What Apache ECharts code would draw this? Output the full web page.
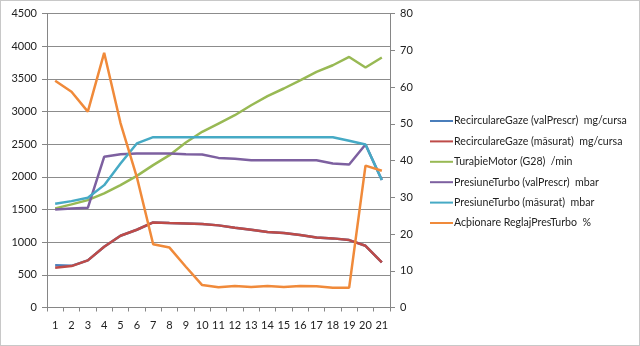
<!DOCTYPE html>
<html>
<head>
<meta charset="utf-8">
<script src="https://cdn.jsdelivr.net/npm/echarts@6/dist/echarts.min.js"></script>
<style>
html,body{margin:0;padding:0;background:#fff;}
#c{position:absolute;left:0;top:0;width:638px;height:344px;border:1px solid #c8c8c8;}
</style>
</head>
<body>
<div id="c"></div>
<script>
const categories = ['1','2','3','4','5','6','7','8','9','10','11','12','13','14','15','16','17','18','19','20','21'];
const names = [
  'RecirculareGaze (valPrescr)  mg/cursa',
  'RecirculareGaze (măsurat)  mg/cursa',
  'TuraþieMotor (G28)  /min',
  'PresiuneTurbo (valPrescr)  mbar',
  'PresiuneTurbo (măsurat)  mbar',
  'Acþionare ReglajPresTurbo  %'
];
const recircPrescr = [645,638,721,930,1098,1190,1302,1292,1287,1277,1257,1220,1190,1154,1139,1109,1073,1058,1032,945,691];
const recircMasurat = [609,634,721,930,1098,1190,1302,1292,1287,1277,1257,1220,1190,1154,1139,1109,1073,1058,1032,945,691];
const turatie = [1517,1578,1644,1746,1873,2015,2179,2332,2526,2689,2816,2943,3096,3234,3352,3478,3606,3708,3835,3673,3826];
const presPrescr = [1501,1517,1526,2306,2347,2358,2358,2358,2347,2342,2290,2275,2255,2255,2255,2255,2255,2205,2190,2495,1950];
const presMasurat = [1587,1628,1679,1873,2205,2511,2607,2607,2607,2607,2607,2607,2607,2607,2607,2607,2607,2607,2551,2495,1950];
const actionare = [61.7,58.7,53.3,69.3,50.2,35.5,17.2,16.3,11.1,6.1,5.5,5.85,5.6,5.85,5.6,5.85,5.8,5.4,5.4,38.6,37.2];
const leftTicks = {min:0,max:4500,interval:500};
const rightTicks = {min:0,max:80,interval:10};

const colors = ['#4A7EBB','#BE4B48','#98B954','#7D60A0','#46AAC5','#F08A3A'];
const datas = [recircPrescr, recircMasurat, turatie, presPrescr, presMasurat, actionare];
const axisIdx = [0,0,0,0,0,1];

const chart = echarts.init(document.getElementById('c'), null, {renderer:'canvas'});
const font = 'Lato, "Open Sans", sans-serif';
chart.setOption({
  animation:false,
  color:colors,
  grid:{left:46,right:249,top:12.5,bottom:37.5,containLabel:false},
  legend:{
    orient:'vertical', left:424, top:108,
    icon:'rect', itemWidth:23, itemHeight:2, itemGap:6.4,
    textStyle:{fontFamily:font,fontSize:10.6,color:'#222',lineHeight:14,padding:[0,0,0,-4]},
    data:names
  },
  xAxis:{
    type:'category', data:categories, boundaryGap:true,
    axisLine:{lineStyle:{color:'#868686',width:1}},
    axisTick:{show:true,length:4,lineStyle:{color:'#868686'}},
    axisLabel:{fontFamily:font,fontSize:11,color:'#222',margin:12,interval:0},
    splitLine:{show:false}
  },
  yAxis:[
    {type:'value',min:leftTicks.min,max:leftTicks.max,interval:leftTicks.interval,
     axisLine:{show:true,lineStyle:{color:'#868686'}},
     axisTick:{show:true,length:5,lineStyle:{color:'#868686'}},
     axisLabel:{fontFamily:font,fontSize:11,color:'#222',margin:10,formatter:v=>String(v)},
     splitLine:{show:true,lineStyle:{color:'#8c8c8c',width:1}}},
    {type:'value',min:rightTicks.min,max:rightTicks.max,interval:rightTicks.interval,position:'right',
     axisLine:{show:true,lineStyle:{color:'#868686'}},
     axisTick:{show:true,length:5,lineStyle:{color:'#868686'}},
     axisLabel:{fontFamily:font,fontSize:11,color:'#222',margin:10,formatter:v=>String(v)},
     splitLine:{show:false}}
  ],
  series:names.map((n,i)=>({
    name:n, type:'line', data:datas[i], yAxisIndex:axisIdx[i],
    symbol:'none', smooth:false,
    lineStyle:{width:2.5,color:colors[i]},
    itemStyle:{color:colors[i]}
  }))
});
</script>
</body>
</html>
